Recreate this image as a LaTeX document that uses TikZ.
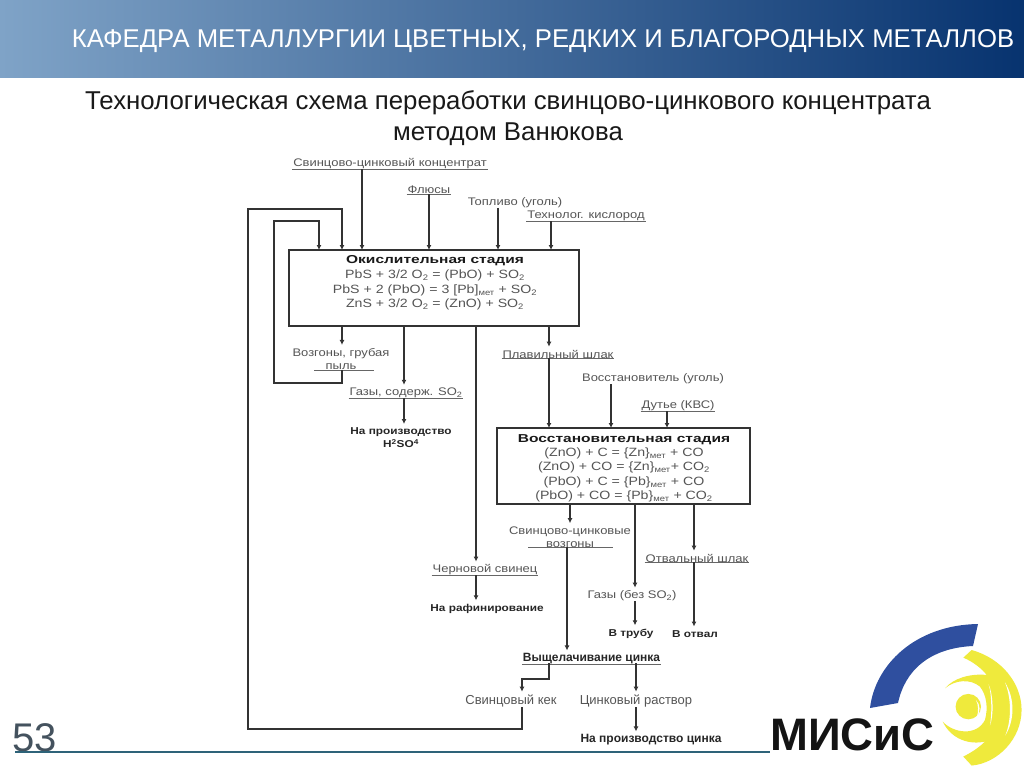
\documentclass[tikz,border=0pt]{standalone}
\usepackage{fontspec}
\setmainfont{Liberation Sans}
\newfontfamily\widefont[FakeStretch=1.18]{Liberation Sans}
\newfontfamily\boldwide[FakeStretch=1.35]{Liberation Sans}
\usetikzlibrary{arrows.meta}
\definecolor{hdrleft}{HTML}{7FA3C7}
\definecolor{hdrright}{HTML}{07336F}
\definecolor{logoblue}{HTML}{2F4F9F}
\definecolor{logoyellow}{HTML}{EFEA3C}
\definecolor{rulecol}{HTML}{2E6379}
\definecolor{labelgrey}{HTML}{555555}
\definecolor{pagegrey}{HTML}{44525E}
\begin{document}
\begin{tikzpicture}[
        x=1pt, y=-1pt,
        >={Latex[length=5pt,width=5pt]},
        stage/.style={draw=black!80, line width=1.8pt, inner sep=0pt},
        lbl/.style={font=\widefont\fontsize{11}{13.5}\selectfont, text=labelgrey, inner xsep=0.8pt, inner ysep=0pt, align=center, yshift=-2pt},
        formula/.style={font=\widefont\fontsize{12}{14}\selectfont, text=labelgrey, inner sep=0.8pt, yshift=-0.7pt},
        stagetitle/.style={font=\boldwide\fontsize{11.5}{14}\selectfont\bfseries, text=black!90, inner sep=0.8pt, yshift=-1.2pt},
        final/.style={font=\widefont\fontsize{10}{13}\selectfont\bfseries, text=black!85, inner sep=0.8pt, align=center, yshift=-1pt},
        narrow/.style={lbl, font=\fontsize{13}{15}\selectfont},
        narrowb/.style={final, font=\fontsize{12}{14}\selectfont\bfseries, inner ysep=0pt, yshift=-2pt},
        flow/.style={->, line width=2pt, black!80},
        totext/.style={flow, shorten >=3pt},
        ul/.style={line width=0.8pt, black!60}
    ]
        \useasboundingbox (0,0) rectangle (1024,767);
        \fill[white] (0,0) rectangle (1024,767);
        \shade[left color=hdrleft, right color=hdrright] (0,0) rectangle (1024,78);
        \node[font=\fontsize{25.7}{28}\selectfont, text=white, inner sep=0pt] (dept) at (543,41)
            {КАФЕДРА МЕТАЛЛУРГИИ ЦВЕТНЫХ, РЕДКИХ И БЛАГОРОДНЫХ МЕТАЛЛОВ};
        \node[font=\fontsize{25.8}{31}\selectfont, text=black!90, align=center, inner sep=0pt] (title) at (508,118)
            {Технологическая схема переработки свинцово-цинкового концентрата\\методом Ванюкова};

        \node[stage, minimum width=290pt, minimum height=76pt] (oxid) at (434,288) {};
        \node[stagetitle] (oxidT) at (435,259.5) {Окислительная стадия};
        \node[formula] (oxid1) at (435,275) {PbS + 3/2 O\textsubscript{2} = (PbO) + SO\textsubscript{2}};
        \node[formula] (oxid2) at (435,290) {PbS + 2 (PbO) = 3 [Pb]\textsubscript{мет} + SO\textsubscript{2}};
        \node[formula] (oxid3) at (435,304) {ZnS + 3/2 O\textsubscript{2} = (ZnO) + SO\textsubscript{2}};

        \node[stage, minimum width=253pt, minimum height=76pt] (redu) at (623.5,466) {};
        \node[stagetitle] (reduT) at (624,438) {Восстановительная стадия};
        \node[formula] (redu1) at (624,453) {(ZnO) + C = \{Zn\}\textsubscript{мет} + CO};
        \node[formula] (redu2) at (624,467) {(ZnO) + CO = \{Zn\}\textsubscript{мет}+ CO\textsubscript{2}};
        \node[formula] (redu3) at (624,482) {(PbO) + C = \{Pb\}\textsubscript{мет} + CO};
        \node[formula] (redu4) at (624,496) {(PbO) + CO = \{Pb\}\textsubscript{мет} + CO\textsubscript{2}};

        \node[lbl] (conc) at (390,162) {Свинцово-цинковый концентрат};
        \node[lbl] (flux) at (429,188) {Флюсы};
        \node[lbl] (fuel) at (515,200.5) {Топливо (уголь)};
        \node[lbl] (oxy) at (586,214) {Технолог. кислород};
        \node[lbl] (dust) at (341,357) {Возгоны, грубая\\пыль};
        \node[lbl] (gas) at (406,391) {Газы, содерж. SO\textsubscript{2}};
        \node[final] (acid) at (401,437) {На производство\\H\textsuperscript{2}SO\textsuperscript{4}};
        \node[lbl] (slag) at (558,352) {Плавильный шлак};
        \node[lbl] (coal) at (653,377) {Восстановитель (уголь)};
        \node[lbl] (blast) at (678,404) {Дутье (КВС)};
        \node[lbl] (fume) at (570,535) {Свинцово-цинковые\\возгоны};
        \node[lbl] (lead) at (485,568) {Черновой свинец};
        \node[final] (refin) at (487,608) {На рафинирование};
        \node[lbl] (gas2) at (632,594) {Газы (без SO\textsubscript{2})};
        \node[final] (pipe) at (631,633) {В трубу};
        \node[lbl] (waste) at (697,556) {Отвальный шлак};
        \node[final] (dump) at (695,633) {В отвал};
        \node[narrowb] (leach) at (591.5,656) {Выщелачивание цинка};
        \node[narrow] (cake) at (511,699) {Свинцовый кек};
        \node[narrow] (sol) at (636,699) {Цинковый раствор};
        \node[narrowb] (zinc) at (651,737) {На производство цинка};

        \foreach \n in {conc,flux,gas,slag,blast,lead,waste,leach,oxy}
            \draw[ul, yshift=1pt] (\n.south west) -- (\n.south east);
        \draw[ul] (314,370) coordinate (dustL) -- (374,370) coordinate (dustR);
        \draw[ul] (528,547) coordinate (fumeL) -- (613,547) coordinate (fumeR);

        \coordinate (inConc) at (362,250);
        \coordinate (inFlux) at (429,250);
        \coordinate (inFuel) at (498,250);
        \coordinate (inOxy) at (551,250);
        \draw[flow] (inConc |- conc.south) -- (inConc);
        \draw[flow] (inFlux |- flux.south) -- (inFlux);
        \draw[flow] (inFuel |- fuel.south) -- (inFuel);
        \draw[flow] (inOxy |- oxy.south) -- (inOxy);

        \coordinate (outDust) at (342,326);
        \coordinate (outGas) at (404,326);
        \coordinate (outLead) at (476,326);
        \coordinate (outSlag) at (549,326);
        \draw[totext] (outDust) -- (outDust |- dust.north);
        \draw[totext] (outGas) -- (outGas |- gas.north);
        \draw[totext] (outLead) -- (outLead |- lead.north);
        \draw[totext] (outSlag) -- (outSlag |- slag.north);
        \draw[totext] (outGas |- gas.south) -- (outGas |- acid.north);
        \draw[totext] (outLead |- lead.south) -- (outLead |- refin.north);

        \coordinate (inSlag) at (549,428);
        \coordinate (inCoal) at (611,428);
        \coordinate (inBlast) at (667,428);
        \draw[flow] (outSlag |- slag.south) -- (inSlag);
        \draw[flow] (inCoal |- coal.south) -- (inCoal);
        \draw[flow] (inBlast |- blast.south) -- (inBlast);

        \coordinate (outFume) at (570,504);
        \coordinate (outGas2) at (635,504);
        \coordinate (outWaste) at (694,504);
        \coordinate (inLeach) at (567,547);
        \draw[totext] (outFume) -- (outFume |- fume.north);
        \draw[totext] (outGas2) -- (outGas2 |- gas2.north);
        \draw[totext] (outWaste) -- (outWaste |- waste.north);
        \draw[totext] (inLeach) -- (inLeach |- leach.north);
        \draw[totext] (outGas2 |- gas2.south) -- (outGas2 |- pipe.north);
        \draw[totext] (outWaste |- waste.south) -- (outWaste |- dump.north);

        \coordinate (stepA) at (549,663);
        \coordinate (stepB) at (522,679);
        \coordinate (outSol) at (636,663);
        \draw[totext] (stepA) |- (stepB) -- (stepB |- cake.north);
        \draw[totext] (outSol) -- (outSol |- sol.north);
        \draw[totext] (outSol |- sol.south) -- (outSol |- zinc.north);

        \coordinate (loopA) at (274,221);
        \coordinate (inLoopA) at (319,250);
        \coordinate (loopB) at (248,209);
        \coordinate (inLoopB) at (342,250);
        \draw[flow] (outDust |- dustL) |- (274,383) -- (loopA) -| (inLoopA);
        \draw[flow] (stepB |- cake.south) |- (248,729) -- (loopB) -| (inLoopB);

        \node[font=\fontsize{40}{42}\selectfont, text=pagegrey, inner sep=0pt] (page) at (34.5,738) {53};
        \draw[line width=1.4pt, rulecol] (15,752) -- (770,752);

        \fill[logoblue] (870,708) .. controls (875,665) and (915,625) .. (978,624)
            -- (973,646) .. controls (930,648) and (905,670) .. (898,703) -- cycle;
        \begin{scope}[shift={(930,645)}, x=0.333pt, y=-0.333pt]
            \fill[logoyellow] (100,38) -- (125,15) .. controls (215,40) and (275,115) .. (275,195)
                .. controls (275,280) and (205,355) .. (125,362) -- (100,335)
                .. controls (130,320) and (150,305) .. (165,290)
                .. controls (120,300) and (65,285) .. (38,230)
                .. controls (70,265) and (140,275) .. (165,225)
                .. controls (175,190) and (170,150) .. (150,125)
                .. controls (120,100) and (75,105) .. (45,130)
                .. controls (70,100) and (120,85) .. (170,90)
                .. controls (160,75) and (130,50) .. (100,38) -- cycle;
            \fill[white] (176,118) .. controls (190,150) and (192,210) .. (180,242)
                .. controls (186,210) and (186,150) .. (176,118) -- cycle;
            \fill[white] (225,112) .. controls (255,160) and (255,225) .. (226,272)
                .. controls (245,225) and (245,160) .. (225,112) -- cycle;
            \fill[logoyellow] (115,185) circle (12.7pt);
            \fill[white] (138,165) .. controls (152,180) and (152,200) .. (140,218)
                .. controls (146,200) and (146,180) .. (138,165) -- cycle;
        \end{scope}
        \node[font=\fontsize{45.5}{48}\selectfont\bfseries, text=black!92, inner sep=0pt] (misis) at (852.5,735) {МИСиС};
    \end{tikzpicture}
\end{document}
